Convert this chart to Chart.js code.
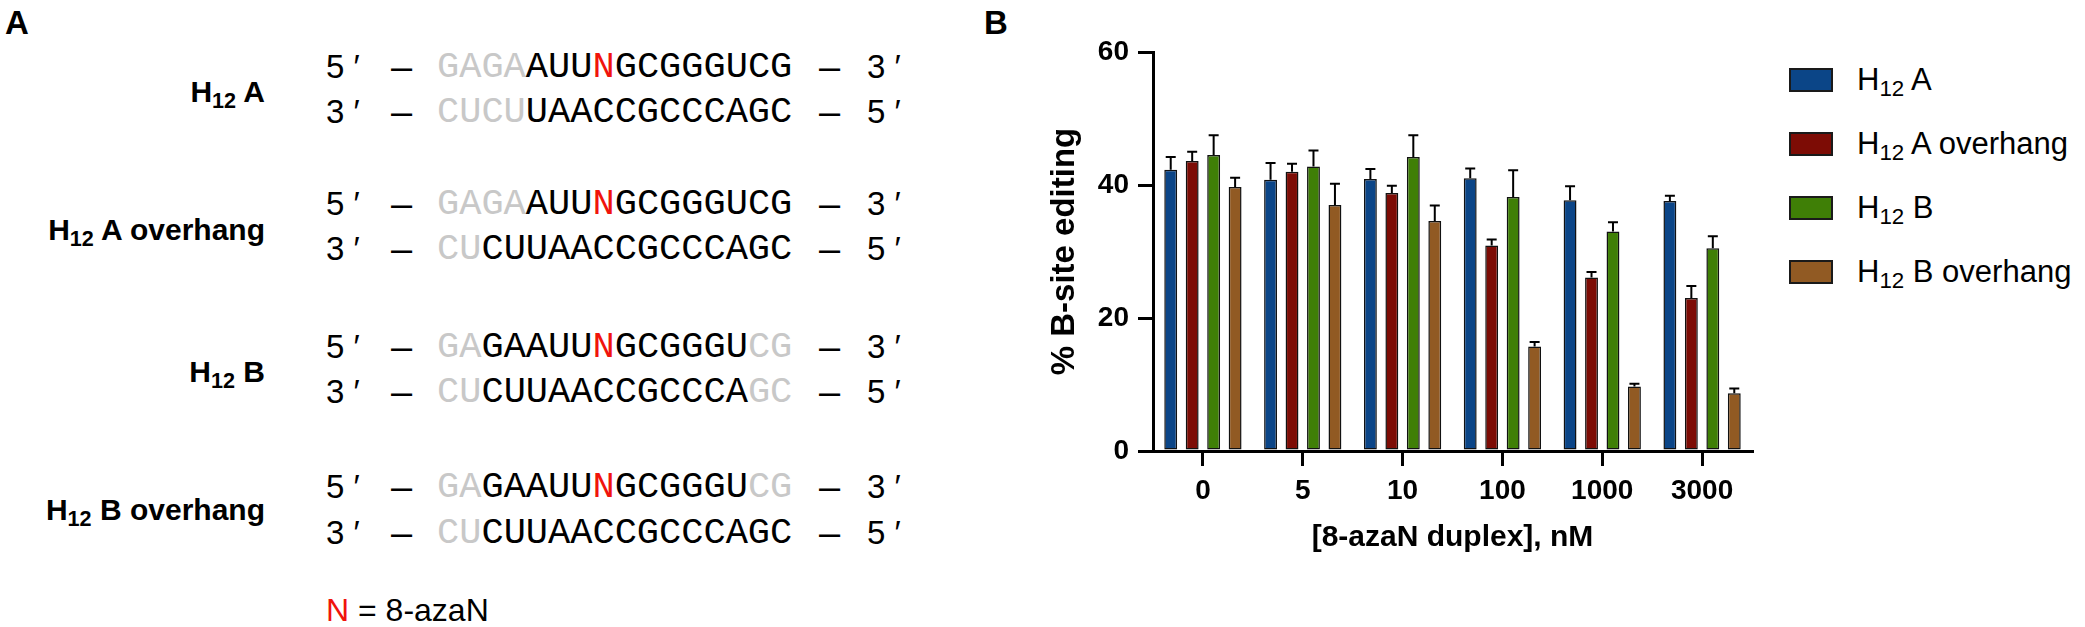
<!DOCTYPE html>
<html>
<head>
<meta charset="utf-8">
<script src="https://cdn.jsdelivr.net/npm/chart.js@4.4.1/dist/chart.umd.min.js"></script>
<style>
  html, body { margin: 0; padding: 0; background: #fff; }
  #page { position: relative; width: 2085px; height: 627px; overflow: hidden; font-family: "Liberation Sans", Arial, sans-serif; color: #000; }
  .panel { position: absolute; font-weight: bold; font-size: 33px; line-height: 1; }
  .name { position: absolute; right: 1820px; font-weight: bold; font-size: 30px; line-height: 40px; white-space: nowrap; }
  .name sub, .leg sub { font-size: 0.72em; vertical-align: -0.28em; line-height: 0; }
  .line { position: absolute; left: 326px; height: 40px; width: 620px; line-height: 40px; white-space: nowrap; }
  .line span { position: absolute; top: 0; }
  .end { font-size: 33px; }
  .dash { font-size: 38px; }
  .seq { font-family: "Liberation Mono", "DejaVu Sans Mono", monospace; font-size: 37px; }
  .g { color: #c8c8c8; }
  .r { color: #f0140c; }
  #key { position: absolute; left: 326px; top: 590px; font-size: 32px; line-height: 40px; }
  #chartBox { position: absolute; left: 980px; top: 0; width: 800px; height: 627px; }
  .leg { position: absolute; left: 1789px; height: 40px; line-height: 40px; font-size: 31px; white-space: nowrap; }
  .leg i { position: absolute; left: 0; top: 8px; width: 40px; height: 20px; border: 2px solid #1a1a1a; }
  .leg span { position: absolute; left: 68px; top: 0; }
</style>
</head>
<body>
<div id="page">
  <div class="panel" style="left:5px; top:6px;">A</div>
  <div class="panel" style="left:984px; top:6px;">B</div>

  <!-- Panel A: duplexes -->
  <div class="name" style="top:72px;">H<sub>12</sub> A</div>
  <div class="line" style="top:47px;"><span class="end" style="left:0">5 ′</span><span class="dash" style="left:65px">–</span><span class="seq" style="left:111px"><span class="g" style="position:static">GAGA</span>AUU<span class="r" style="position:static">N</span>GCGGGUCG</span><span class="dash" style="left:493px">–</span><span class="end" style="left:541px">3 ′</span></div>
  <div class="line" style="top:92px;"><span class="end" style="left:0">3 ′</span><span class="dash" style="left:65px">–</span><span class="seq" style="left:111px"><span class="g" style="position:static">CUCU</span>UAACCGCCCAGC</span><span class="dash" style="left:493px">–</span><span class="end" style="left:541px">5 ′</span></div>

  <div class="name" style="top:210px;">H<sub>12</sub> A overhang</div>
  <div class="line" style="top:184px;"><span class="end" style="left:0">5 ′</span><span class="dash" style="left:65px">–</span><span class="seq" style="left:111px"><span class="g" style="position:static">GAGA</span>AUU<span class="r" style="position:static">N</span>GCGGGUCG</span><span class="dash" style="left:493px">–</span><span class="end" style="left:541px">3 ′</span></div>
  <div class="line" style="top:229px;"><span class="end" style="left:0">3 ′</span><span class="dash" style="left:65px">–</span><span class="seq" style="left:111px"><span class="g" style="position:static">CU</span>CUUAACCGCCCAGC</span><span class="dash" style="left:493px">–</span><span class="end" style="left:541px">5 ′</span></div>

  <div class="name" style="top:352px;">H<sub>12</sub> B</div>
  <div class="line" style="top:327px;"><span class="end" style="left:0">5 ′</span><span class="dash" style="left:65px">–</span><span class="seq" style="left:111px"><span class="g" style="position:static">GA</span>GAAUU<span class="r" style="position:static">N</span>GCGGGU<span class="g" style="position:static">CG</span></span><span class="dash" style="left:493px">–</span><span class="end" style="left:541px">3 ′</span></div>
  <div class="line" style="top:372px;"><span class="end" style="left:0">3 ′</span><span class="dash" style="left:65px">–</span><span class="seq" style="left:111px"><span class="g" style="position:static">CU</span>CUUAACCGCCCA<span class="g" style="position:static">GC</span></span><span class="dash" style="left:493px">–</span><span class="end" style="left:541px">5 ′</span></div>

  <div class="name" style="top:490px;">H<sub>12</sub> B overhang</div>
  <div class="line" style="top:467px;"><span class="end" style="left:0">5 ′</span><span class="dash" style="left:65px">–</span><span class="seq" style="left:111px"><span class="g" style="position:static">GA</span>GAAUU<span class="r" style="position:static">N</span>GCGGGU<span class="g" style="position:static">CG</span></span><span class="dash" style="left:493px">–</span><span class="end" style="left:541px">3 ′</span></div>
  <div class="line" style="top:513px;"><span class="end" style="left:0">3 ′</span><span class="dash" style="left:65px">–</span><span class="seq" style="left:111px"><span class="g" style="position:static">CU</span>CUUAACCGCCCAGC</span><span class="dash" style="left:493px">–</span><span class="end" style="left:541px">5 ′</span></div>

  <div id="key"><span class="r">N</span> = 8-azaN</div>

  <!-- Panel B: chart -->
  <div id="chartBox"><canvas id="editChart" width="800" height="627"></canvas></div>
  <div id="legend"></div>
</div>

<script>
// Data (% B-site editing, mean + error)
const concentrations = ["0", "5", "10", "100", "1000", "3000"];
const seriesNames = ["H12 A", "H12 A overhang", "H12 B", "H12 B overhang"];
const seriesColors = ["#0b4587", "#7d0c05", "#3f7f06", "#915a23"];

const h12A        = [42.3, 40.8, 40.9, 41.0, 37.7, 37.6];
const h12AErr     = [1.9, 2.5, 1.5, 1.5, 2.1, 0.8];
const h12AOver    = [43.6, 42.0, 38.8, 30.9, 26.1, 23.0];
const h12AOverErr = [1.4, 1.2, 1.1, 0.9, 0.8, 1.8];
const h12B        = [44.5, 42.8, 44.2, 38.2, 33.0, 30.5];
const h12BErr     = [3.0, 2.4, 3.3, 4.0, 1.4, 1.8];
const h12BOver    = [39.7, 37.0, 34.6, 15.7, 9.7, 8.7];
const h12BOverErr = [1.4, 3.2, 2.3, 0.7, 0.4, 0.7];

const yTicks = [0, 20, 40, 60];

const values = [h12A, h12AOver, h12B, h12BOver];
const errors = [h12AErr, h12AOverErr, h12BErr, h12BOverErr];

// Error bars (upper only), drawn from the bar scales
const errorBars = {
    id: "errorBars",
    afterDatasetsDraw(chart) {
        const ctx = chart.ctx;
        const y = chart.scales.y;
        ctx.save();
        ctx.strokeStyle = "#000";
        ctx.lineWidth = 2;
        chart.data.datasets.forEach((ds, i) => {
            const meta = chart.getDatasetMeta(i);
            meta.data.forEach((bar, j) => {
                const top = y.getPixelForValue(ds.data[j] + ds.errors[j]);
                ctx.beginPath();
                ctx.moveTo(bar.x, bar.y);
                ctx.lineTo(bar.x, top);
                ctx.moveTo(bar.x - 5, top);
                ctx.lineTo(bar.x + 5, top);
                ctx.stroke();
            });
        });
        ctx.restore();
    }
};

const tickFont = { family: "Liberation Sans", size: 28, weight: "bold" };
const titleFont = { family: "Liberation Sans", size: 30, weight: "bold" };

new Chart(document.getElementById("editChart"), {
    type: "bar",
    data: {
        labels: concentrations,
        datasets: seriesNames.map((name, i) => ({
            label: name,
            data: values[i],
            errors: errors[i],
            backgroundColor: seriesColors[i],
            borderColor: "#111",
            borderWidth: 1.5,
            borderSkipped: false,
            barPercentage: 0.6,
            categoryPercentage: 0.86
        }))
    },
    options: {
        responsive: false,
        animation: false,
        layout: { padding: { top: 52, right: 28, left: 0, bottom: 0 } },
        plugins: {
            legend: { display: false },
            tooltip: { enabled: false }
        },
        scales: {
            x: {
                afterFit: s => { s.height = 176; },
                grid: { drawOnChartArea: false, offset: false, color: "#000", lineWidth: 3, tickLength: 15 },
                border: { color: "#000", width: 3 },
                ticks: { color: "#000", font: tickFont, padding: 8, maxRotation: 0 },
                title: { display: true, text: "[8-azaN duplex], nM", color: "#000", font: titleFont, padding: { top: 0, bottom: 71 } }
            },
            y: {
                min: 0,
                max: 60,
                afterFit: s => { s.width = 173; },
                afterBuildTicks: s => { s.ticks = yTicks.map(v => ({ value: v })); },
                grid: { drawOnChartArea: false, color: "#000", lineWidth: 3, tickLength: 15 },
                border: { color: "#000", width: 3 },
                ticks: { color: "#000", font: tickFont, padding: 9 },
                title: { display: true, text: "% B-site editing", color: "#000", font: { family: "Liberation Sans", size: 33, weight: "bold" }, padding: { top: 65, bottom: 0 } }
            }
        }
    },
    plugins: [errorBars]
});

// Legend with subscripts
const legend = document.getElementById("legend");
const legendRows = [80, 144, 208, 272];
seriesNames.forEach((name, i) => {
    const div = document.createElement("div");
    div.className = "leg";
    div.style.top = (legendRows[i] - 20) + "px";
    const rest = name.replace("H12", "");
    div.innerHTML = `<i style="background:${seriesColors[i]}"></i><span>H<sub>12</sub>${rest}</span>`;
    legend.appendChild(div);
});
</script>
</body>
</html>
